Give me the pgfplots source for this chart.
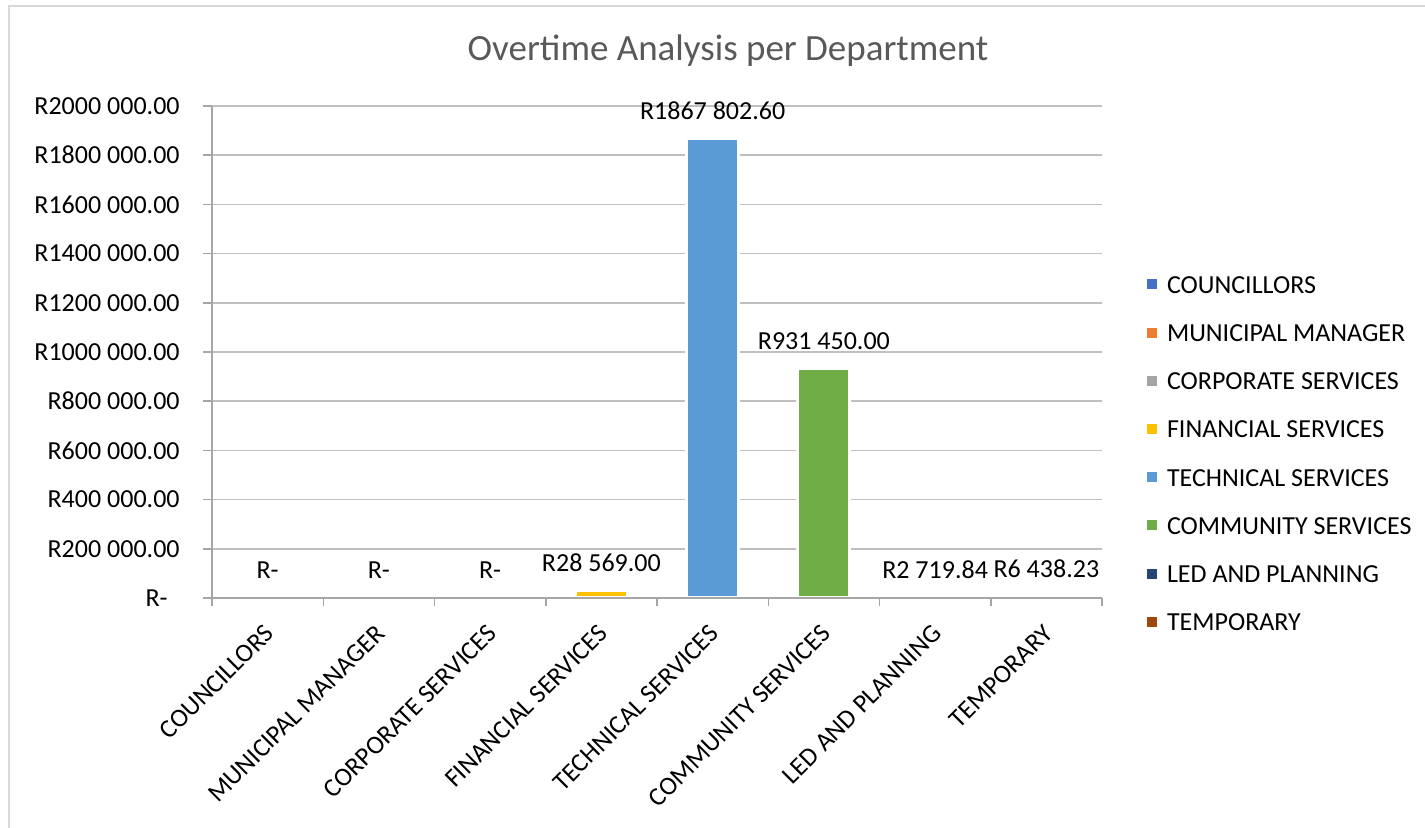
\documentclass[border=0pt]{standalone}
\usepackage{pgfplots}
\pgfplotsset{compat=1.18}
\usepackage{fontspec}
\setmainfont{Carlito}
\definecolor{c1}{HTML}{4472C4}
\definecolor{c2}{HTML}{ED7D31}
\definecolor{c3}{HTML}{A5A5A5}
\definecolor{c4}{HTML}{FFC000}
\definecolor{c5}{HTML}{5B9BD5}
\definecolor{c6}{HTML}{70AD47}
\definecolor{c7}{HTML}{264478}
\definecolor{c8}{HTML}{9E480E}
\definecolor{gridgray}{HTML}{C0C0C0}
\definecolor{axisgray}{HTML}{A6A6A6}
\definecolor{bordergray}{HTML}{D9D9D9}
\definecolor{titlegray}{HTML}{595959}
\newcommand{\lblfont}{\fontsize{13}{15}\selectfont}
\begin{document}
\begin{tikzpicture}
\useasboundingbox (0pt,0pt) rectangle (712.5pt,414pt);
\draw[bordergray, line width=0.6pt] (4.5pt,0pt) -- (4.5pt,411pt) -- (712.5pt,411pt);
\node[anchor=base, font=\fontsize{18.5}{21}\selectfont, text=titlegray] at (364pt,383.5pt) {Overtime Analysis per Department};
\begin{axis}[
  at={(106pt,115pt)}, anchor=south west,
  scale only axis, width=445pt, height=246pt,
  ybar, bar width=26pt,
  xmin=-0.5, xmax=7.5, ymin=0, ymax=2000000,
  axis lines*=left,
  axis line style={draw=axisgray, line width=0.75pt},
  tick align=outside,
  major tick length=4.5pt, minor tick length=4pt,
  tick style={draw=axisgray, line width=0.75pt},
  major x tick style={draw=none},
  xtick={0,1,2,3,4,5,6,7},
  minor xtick={-0.5,0.5,1.5,2.5,3.5,4.5,5.5,6.5,7.5},
  xticklabels={COUNCILLORS,MUNICIPAL MANAGER,CORPORATE SERVICES,FINANCIAL SERVICES,TECHNICAL SERVICES,COMMUNITY SERVICES,LED AND PLANNING,TEMPORARY},
  xticklabel style={yshift=-11pt, xshift=1pt, rotate=45, anchor=east, inner sep=0pt, font=\lblfont},
  scaled y ticks=false,
  ytick={0,200000,400000,600000,800000,1000000,1200000,1400000,1600000,1800000,2000000},
  yticklabels={R-\hspace*{6pt},R200 000.00,R400 000.00,R600 000.00,R800 000.00,R1000 000.00,R1200 000.00,R1400 000.00,R1600 000.00,R1800 000.00,R2000 000.00},
  yticklabel style={anchor=east, inner sep=0pt, font=\lblfont, xshift=-11.5pt},
  ymajorgrids,
  major grid style={draw=gridgray, line width=0.75pt},
  nodes near coords,
  point meta=explicit symbolic,
  nodes near coords style={anchor=base, yshift=9.5pt, font=\lblfont, text=black, inner sep=0pt},
  every axis plot/.append style={draw=white, line width=1.5pt},
  legend style={at={(1.0506,0.2947)}, anchor=west, draw=none, fill=none, inner sep=0pt, outer sep=0pt,
    font=\lblfont, row sep=15.1pt, column sep=5pt,
    nodes={inner sep=0pt, text height=9pt, text depth=0pt}},
  legend cell align=left,
  legend image code/.code={\fill[#1, draw=none] (0pt,-2.5pt) rectangle (5pt,2.5pt);},
]
\addplot[fill=c1, bar shift=0pt] coordinates {(0,0) [R-]};
\addplot[fill=c2, bar shift=0pt] coordinates {(1,0) [R-]};
\addplot[fill=c3, bar shift=0pt] coordinates {(2,0) [R-]};
\addplot[fill=c4, bar shift=0pt] coordinates {(3,28569) [R28 569.00]};
\addplot[fill=c5, bar shift=0pt] coordinates {(4,1867802.60) [R1867 802.60]};
\addplot[fill=c6, bar shift=0pt] coordinates {(5,931450) [R931 450.00]};
\addplot[fill=c7, bar shift=0pt] coordinates {(6,2719.84) [R2 719.84]};
\addplot[fill=c8, bar shift=0pt] coordinates {(7,6438.23) [R6 438.23]};
\legend{COUNCILLORS,MUNICIPAL MANAGER,CORPORATE SERVICES,FINANCIAL SERVICES,TECHNICAL SERVICES,COMMUNITY SERVICES,LED AND PLANNING,TEMPORARY}
\draw[axisgray, line width=0.75pt] (rel axis cs:0,0) -- (rel axis cs:1,0);
\end{axis}
\end{tikzpicture}
\end{document}
